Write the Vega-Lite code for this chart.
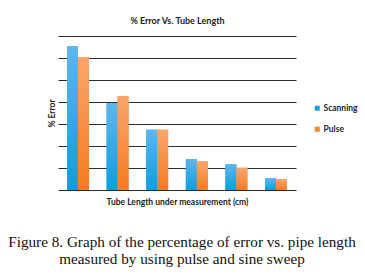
{
  "$schema": "https://vega.github.io/schema/vega-lite/v6.json",
  "background": "white",
  "autosize": {"type": "none"},
  "padding": {"left": 58, "top": 36, "right": 69, "bottom": 86},
  "width": 238,
  "height": 154,
  "title": {
    "text": ["Figure 8. Graph of the percentage of error vs. pipe length", "measured by using pulse and sine sweep"],
    "orient": "bottom",
    "anchor": "middle",
    "frame": "group",
    "dx": 5,
    "font": "Liberation Serif",
    "fontSize": 15.2,
    "fontWeight": "normal",
    "color": "#111",
    "lineHeight": 17,
    "offset": 29
  },
  "config": {
    "view": {"stroke": null},
    "font": "Lato"
  },
  "data": {
    "values": [
      {"length": "1", "series": "Scanning", "error": 65.3},
      {"length": "1", "series": "Pulse", "error": 60.5},
      {"length": "2", "series": "Scanning", "error": 39.6},
      {"length": "2", "series": "Pulse", "error": 42.6},
      {"length": "3", "series": "Scanning", "error": 27.4},
      {"length": "3", "series": "Pulse", "error": 27.4},
      {"length": "4", "series": "Scanning", "error": 14.1},
      {"length": "4", "series": "Pulse", "error": 13.0},
      {"length": "5", "series": "Scanning", "error": 11.7},
      {"length": "5", "series": "Pulse", "error": 10.1},
      {"length": "6", "series": "Scanning", "error": 5.4},
      {"length": "6", "series": "Pulse", "error": 5.0}
    ]
  },
  "encoding": {
    "xOffset": {"field": "series", "type": "nominal", "sort": ["Scanning", "Pulse"], "scale": {"paddingInner": 0, "paddingOuter": 0}},
    "y": {
      "field": "error",
      "type": "quantitative",
      "scale": {"domain": [0, 70], "nice": false},
      "axis": {
        "title": "% Error",
        "titleFont": "Lato",
        "titleFontSize": 8.5,
        "titleFontWeight": "bold",
        "titleColor": "#222",
        "titlePadding": 2,
        "values": [0, 10, 20, 30, 40, 50, 60, 70],
        "labels": false,
        "ticks": false,
        "domain": false,
        "grid": true,
        "gridColor": "#2b2b2b",
        "gridWidth": 1.2
      }
    }
  },
  "resolve": {"scale": {"x": "independent"}, "axis": {"x": "independent"}},
  "layer": [
    {
      "mark": {"type": "bar"},
      "encoding": {
        "x": {
          "field": "length",
          "type": "nominal",
          "sort": null,
          "scale": {"paddingInner": 0.446, "paddingOuter": 0.227},
          "axis": {
            "orient": "bottom",
            "title": "Tube Length under measurement (cm)",
            "titleFont": "Lato",
            "titleFontSize": 8.5,
            "titleFontWeight": "bold",
            "titleColor": "#222",
            "titlePadding": 7,
            "labels": false,
            "ticks": false,
            "domain": false,
            "grid": false
          }
        },
        "color": {
          "field": "series",
          "type": "nominal",
          "sort": ["Scanning", "Pulse"],
          "scale": {"domain": ["Scanning", "Pulse"], "range": ["#1e9ee0", "#f5852e"]},
          "legend": {
            "title": null,
            "orient": "none",
            "legendX": 255,
            "legendY": 68,
            "symbolType": "square",
            "symbolSize": 25,
            "symbolStrokeWidth": 0,
            "labelFont": "Lato",
            "labelFontSize": 8.5,
            "labelFontWeight": "bold",
            "labelColor": "#222",
            "labelOffset": 2,
            "rowPadding": 12
          }
        }
      }
    },
    {
      "transform": [{"filter": "datum.series === 'Scanning'"}],
      "mark": {
        "type": "bar",
        "color": {
          "gradient": "linear", "x1": 0, "y1": 0, "x2": 0, "y2": 1,
          "stops": [{"offset": 0, "color": "#62b5ea"}, {"offset": 1, "color": "#08a0de"}]
        }
      },
      "encoding": {
        "x": {
          "field": "length",
          "type": "nominal",
          "sort": null,
          "scale": {"paddingInner": 0.446, "paddingOuter": 0.227},
          "axis": {
            "orient": "top",
            "title": "% Error Vs. Tube Length",
            "titleFont": "Lato",
            "titleFontSize": 9,
            "titleFontWeight": "bold",
            "titleColor": "#222",
            "titlePadding": 11,
            "labels": false,
            "ticks": false,
            "domain": false,
            "grid": false
          }
        }
      }
    },
    {
      "transform": [{"filter": "datum.series === 'Pulse'"}],
      "mark": {
        "type": "bar",
        "color": {
          "gradient": "linear", "x1": 0, "y1": 0, "x2": 0, "y2": 1,
          "stops": [{"offset": 0, "color": "#f9a66c"}, {"offset": 1, "color": "#f57b22"}]
        }
      },
      "encoding": {
        "x": {
          "field": "length",
          "type": "nominal",
          "sort": null,
          "scale": {"paddingInner": 0.446, "paddingOuter": 0.227},
          "axis": null
        }
      }
    }
  ]
}
